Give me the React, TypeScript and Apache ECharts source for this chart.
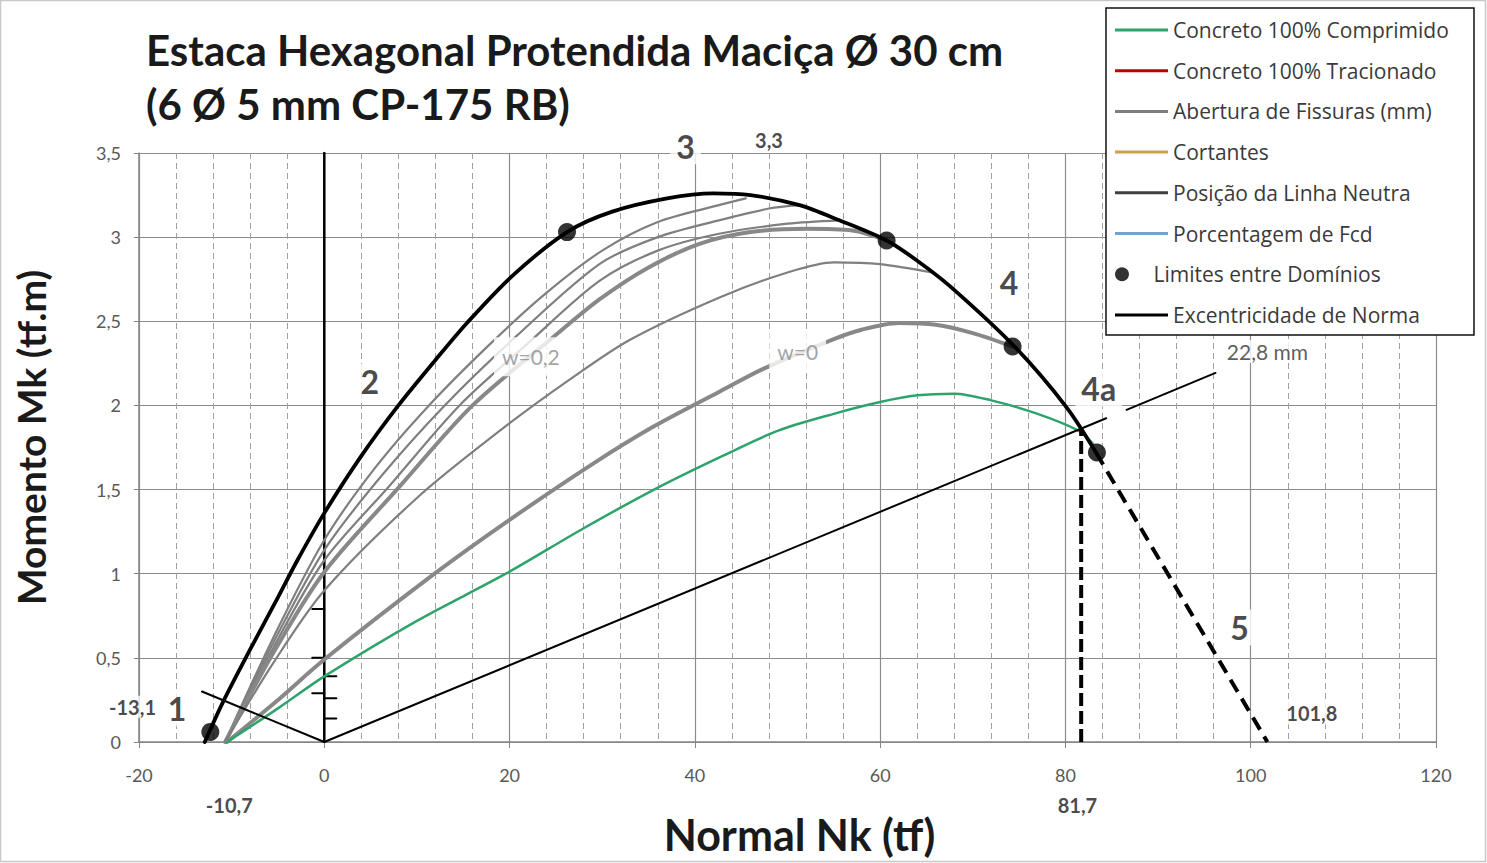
import React, { useEffect, useRef } from "react";
import * as echarts from "echarts";

// ---------- axes ----------
const X_MIN = -20;
const X_MAX = 120;
const X_INTERVAL = 20;
const Y_MIN = 0;
const Y_MAX = 3.5;
const Y_INTERVAL = 0.5;

// ---------- data (N in tf, M in tf.m) ----------
const envelope = [
  [-12.9, 0], [-11, 0.23], [-8, 0.55], [-5, 0.86], [-2.9, 1.08], [0, 1.36], [4, 1.7], [8, 2.0],
  [12, 2.27], [15.4, 2.49], [20.3, 2.77], [26.2, 3.03], [31, 3.15], [37, 3.23], [42, 3.26],
  [46, 3.25], [51.3, 3.19], [55.6, 3.1], [60.7, 2.98], [64, 2.86], [67.5, 2.71], [74.5, 2.35],
  [80.1, 1.99], [83.3, 1.72],
];
const envelopeDomain5 = [[83.3, 1.72], [101.8, 0]];
const limitN = [[81.7, 0], [81.7, 1.86]];
const domainLimits = [[-12.3, 0.06], [26.2, 3.03], [60.7, 2.98], [74.3, 2.35], [83.4, 1.72]];

const fissureA = [[-10.7, 0], [-5.5, 0.62], [0, 1.2], [5.5, 1.63], [11.3, 2.0], [17.8, 2.36], [24, 2.67], [30, 2.92], [36, 3.09], [42.6, 3.19], [45.5, 3.23]];
const fissureB = [[-10.7, 0], [-5.5, 0.59], [0, 1.14], [6, 1.57], [13, 2.0], [20.7, 2.41], [29.7, 2.84], [36, 3.0], [42.6, 3.1], [48, 3.17], [51.3, 3.19]];
const fissureC = [[-10.7, 0], [-5.5, 0.56], [0, 1.08], [7, 1.52], [14.6, 2.0], [22, 2.37], [29.7, 2.74], [36, 2.92], [42.6, 3.02], [50, 3.08], [55.6, 3.1]];
const fissureD = [[-10.7, 0], [-5.5, 0.53], [0, 1.01], [8, 1.51], [16, 2.0], [24.8, 2.41], [29.7, 2.63], [35, 2.82], [40.5, 2.96], [46, 3.03], [52, 3.05], [57, 3.04], [60.7, 2.98]];
const fissureE = [[-10.7, 0], [-5.5, 0.47], [0, 0.9], [10, 1.45], [19.2, 1.86], [26.4, 2.15], [33, 2.39], [42.6, 2.64], [50, 2.79], [55, 2.85], [60, 2.84], [65.6, 2.79]];
const fissureW0 = [[-10.5, 0], [-5, 0.25], [0, 0.49], [11.9, 1.0], [20, 1.32], [28.9, 1.65], [35.4, 1.87], [42.6, 2.08], [47.5, 2.22], [54.8, 2.39], [58, 2.45], [62, 2.49], [66, 2.48], [70, 2.43], [74.3, 2.35]];

const compressed = [[-10.5, 0], [-5, 0.2], [0, 0.39], [10, 0.72], [19.6, 1.0], [28, 1.27], [35.6, 1.5], [43, 1.7], [49, 1.85], [55, 1.95], [60, 2.02], [64, 2.06], [68, 2.07], [72, 2.03], [77, 1.95], [81.4, 1.85], [83, 1.77]];

const eccentricityA = [[-13.2, 0.3], [0, 0], [84.4, 1.924]];
const eccentricityB = [[86.6, 1.974], [96.2, 2.193]];

const axisMarkLeft = [0.79, 0.5, 0.29];
const axisMarkRight = [0.39, 0.26, 0.14];

const legendNames = [
  "Concreto 100% Comprimido",
  "Concreto 100% Tracionado",
  "Abertura de Fissuras (mm)",
  "Cortantes",
  "Posição da Linha Neutra",
  "Porcentagem de Fcd",
  "Limites entre Domínios",
  "Excentricidade de Norma",
];

const annotationTexts = ["1", "2", "3", "3,3", "4", "4a", "5", "22,8 mm", "-13,1", "-10,7", "81,7", "101,8", "w=0,2", "w=0"];
const annotationAt = [
  [-15.9, 0.2], [4.9, 2.14], [39.0, 3.54], [48.0, 3.58], [73.9, 2.73], [83.6, 2.1], [98.8, 0.68],
  [101.8, 2.32], [-20.7, 0.21], [-10.25, -0.375], [81.3, -0.375], [106.6, 0.17], [22.3, 2.29], [51.1, 2.32],
];
const annotationKind = ["big", "big", "big", "small", "big", "big", "big", "mm", "small", "small", "small", "small", "w", "w"];

const FONT = "Lato, 'Liberation Sans', sans-serif";
const LEGEND_FONT = "'Open Sans', 'Noto Sans', sans-serif";

export default function App() {
  const ref = useRef<HTMLDivElement>(null);

  useEffect(() => {
    const chart = echarts.init(ref.current!, null, { renderer: "svg" });

    const lineBase = (name: string | undefined, data: number[][], color: string, width: number, extra: any = {}) => ({
      type: "line",
      name,
      data,
      symbol: "none",
      smooth: 0.3,
      silent: true,
      animation: false,
      itemStyle: { color },
      lineStyle: { color, width, cap: "round", join: "round" },
      emphasis: { disabled: true },
      ...extra,
    });

    const kindStyle: Record<string, any> = {
      big: { fontSize: 32, fontWeight: "bold", color: "#1a1a1a", backgroundColor: "#fff", padding: [2, 6] },
      small: { fontSize: 20, fontWeight: "bold", color: "#1a1a1a", backgroundColor: "#fff", padding: [1, 3] },
      mm: { fontSize: 21, fontWeight: "normal", color: "#333", backgroundColor: "#fff", padding: [1, 4] },
      w: { fontSize: 21, fontWeight: "normal", color: "#8c8c8c", backgroundColor: "#fff", padding: [9, 8] },
    };

    const legendTop0 = 30;
    const legendStep = 40.7;
    const legends = legendNames.map((name, i) => {
      const isDot = name === "Limites entre Domínios";
      return {
        data: [{ name, icon: isDot ? "circle" : "rect" }],
        orient: "vertical",
        left: 1115,
        top: legendTop0 + i * legendStep - 12,
        padding: 0,
        itemWidth: 53,
        itemHeight: isDot ? 14 : 3,
        itemGap: 0,
        selectedMode: false,
        textStyle: { fontFamily: LEGEND_FONT, fontSize: 21, color: "#3a3a3a", lineHeight: 24 },
        z: 6,
      };
    });

    const series: any[] = [
      lineBase("Concreto 100% Tracionado", [], "#c00000", 3),
      lineBase("Cortantes", [], "#c9a24a", 3),
      lineBase("Posição da Linha Neutra", [], "#404040", 3),
      lineBase("Porcentagem de Fcd", [], "#6fa3d6", 3),
      lineBase(undefined, [[0, Y_MIN], [0, Y_MAX]], "#000", 2.5, { smooth: false, z: 3 }),
      ...axisMarkLeft.map((m) => lineBase(undefined, [[-1.3, m], [0, m]], "#000", 2, { smooth: false, z: 3 })),
      ...axisMarkRight.map((m) => lineBase(undefined, [[0, m], [1.3, m]], "#000", 2, { smooth: false, z: 3 })),
      lineBase("Abertura de Fissuras (mm)", fissureA, "#7f7f7f", 2.2),
      lineBase("Abertura de Fissuras (mm)", fissureB, "#7f7f7f", 2.2),
      lineBase("Abertura de Fissuras (mm)", fissureC, "#7f7f7f", 2.2),
      lineBase("Abertura de Fissuras (mm)", fissureD, "#888888", 4),
      lineBase("Abertura de Fissuras (mm)", fissureE, "#7f7f7f", 2.2),
      lineBase("Abertura de Fissuras (mm)", fissureW0, "#888888", 4),
      lineBase("Concreto 100% Comprimido", compressed, "#2ea36b", 2.5, { z: 4 }),
      lineBase("Excentricidade de Norma", eccentricityA, "#000", 2, { smooth: false, z: 4 }),
      lineBase("Excentricidade de Norma", eccentricityB, "#000", 2, { smooth: false, z: 4 }),
      lineBase(undefined, envelope, "#000", 3.8, { z: 5 }),
      lineBase(undefined, envelopeDomain5, "#000", 4, { smooth: false, z: 5, lineStyle: { color: "#000", width: 4, type: [14, 8] } }),
      lineBase(undefined, limitN, "#000", 4, { smooth: false, z: 5, lineStyle: { color: "#000", width: 4, type: [13, 5] } }),
      {
        type: "scatter",
        name: "Limites entre Domínios",
        data: domainLimits,
        symbol: "circle",
        symbolSize: 18,
        itemStyle: { color: "#000" },
        silent: true,
        z: 6,
      },
      {
        type: "scatter",
        data: annotationTexts.map((t, i) => ({
          value: annotationAt[i],
          label: {
            show: true,
            position: "inside",
            formatter: t,
            fontFamily: FONT,
            ...kindStyle[annotationKind[i]],
          },
        })),
        symbolSize: 0,
        clip: false,
        silent: true,
        z: 7,
      },
    ];

    const option: any = {
      animation: false,
      backgroundColor: "#fff",
      title: {
        text: "Estaca Hexagonal Protendida Maciça Ø 30 cm\n(6 Ø 5 mm CP-175 RB)",
        left: 146,
        top: 23,
        padding: 0,
        textStyle: { fontFamily: FONT, fontWeight: "bold", fontSize: 42, lineHeight: 54, color: "#1a1a1a" },
      },
      grid: { left: 139, top: 153, right: 51, bottom: 121, containLabel: false },
      xAxis: {
        type: "value",
        min: X_MIN,
        max: X_MAX,
        interval: X_INTERVAL,
        name: "Normal Nk (tf)",
        nameLocation: "middle",
        nameGap: 71,
        nameTextStyle: { fontFamily: FONT, fontWeight: "bold", fontSize: 43, color: "#1a1a1a", padding: [0, 0, 0, 24] },
        axisLine: { show: true, onZero: false, lineStyle: { color: "#868686", width: 1.5 } },
        axisTick: { show: true, length: 6, lineStyle: { color: "#868686" } },
        axisLabel: { margin: 24, fontFamily: FONT, fontSize: 18, color: "#595959" },
        splitLine: { show: true, lineStyle: { color: "#8c8c8c", width: 1.2 } },
        minorTick: { show: false, splitNumber: 5 },
        minorSplitLine: { show: true, lineStyle: { color: "#a0a0a0", width: 1, type: [6, 4] } },
      },
      yAxis: {
        type: "value",
        min: Y_MIN,
        max: Y_MAX,
        interval: Y_INTERVAL,
        name: "Momento Mk (tf.m)",
        nameLocation: "middle",
        nameGap: 89,
        nameRotate: 90,
        nameTextStyle: { fontFamily: FONT, fontWeight: "bold", fontSize: 39, color: "#1a1a1a", padding: [0, 0, 0, 20] },
        axisLine: { show: true, onZero: false, lineStyle: { color: "#868686", width: 1.5 } },
        axisTick: { show: true, length: 5, lineStyle: { color: "#868686" } },
        axisLabel: {
          margin: 18,
          fontFamily: FONT,
          fontSize: 18,
          color: "#595959",
          formatter: (v: number) => String(v).replace(".", ","),
        },
        splitLine: { show: true, lineStyle: { color: "#8c8c8c", width: 1.2 } },
      },
      legend: legends,
      graphic: [
        {
          type: "rect",
          shape: { x: 0.5, y: 0.5, width: 1485, height: 861 },
          style: { fill: "none", stroke: "#c8c8c8", lineWidth: 1.5 },
          silent: true,
          z: 0,
        },
        {
          type: "rect",
          shape: { x: 1106, y: 8, width: 368, height: 327 },
          style: { fill: "#fff", stroke: "#111", lineWidth: 1.5 },
          silent: true,
          z: 5,
        },
      ],
      series,
    };

    chart.setOption(option);
    return () => chart.dispose();
  }, []);

  return (
    <div
      ref={ref}
      style={{ position: "fixed", left: 0, top: 0, width: 1487, height: 863, background: "#fff" }}
    />
  );
}
